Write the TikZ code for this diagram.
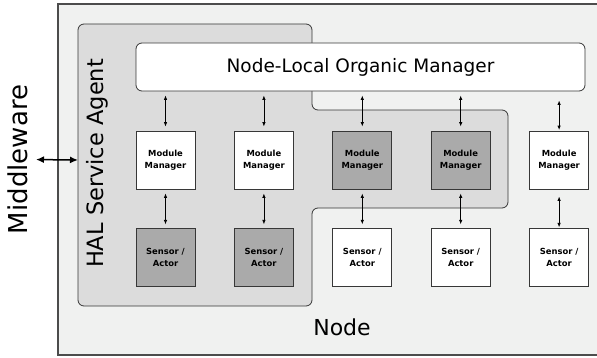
\documentclass[tikz,border=0pt]{standalone}
\usepackage{fontspec}
\setmainfont{DejaVu Sans}
\usetikzlibrary{arrows.meta, positioning}

\definecolor{nodebg}{RGB}{240,241,240}
\definecolor{halbg}{RGB}{220,220,220}
\definecolor{halbox}{RGB}{170,170,170}
\definecolor{edge}{RGB}{55,55,55}

\begin{document}
\begin{tikzpicture}[
    x=1pt, y=1pt,
    module/.style={
        draw=edge,
        fill=white,
        line width=0.8pt,
        minimum width=59pt,
        minimum height=58pt,
        inner sep=0pt,
        align=center,
        font=\bfseries\fontsize{8.4}{12}\selectfont
    },
    halmodule/.style={
        module,
        fill=halbox
    },
    manager/.style={
        draw=edge,
        fill=white,
        line width=0.8pt,
        rounded corners=6pt,
        minimum width=449pt,
        minimum height=48pt,
        font=\fontsize{18.5}{22}\selectfont
    },
    link/.style={
        {Latex[length=4.5pt,width=3.5pt]}-{Latex[length=4.5pt,width=3.5pt]},
        line width=0.8pt,
        shorten <=4pt,
        shorten >=4pt
    },
    mwlink/.style={
        {Latex[length=8pt,width=7pt]}-{Latex[length=8pt,width=7pt]},
        line width=1.5pt
    }
]

\useasboundingbox (0,0) rectangle (597,357);

% --- NODE AND HAL SERVICE AGENT AREAS ---------------------------

\draw[fill=nodebg, draw=gray!60!black, line width=1.3pt]
    (58,2) rectangle (610,353);

\draw[fill=halbg, draw=edge, line width=0.8pt, rounded corners=6pt]
    (78,333) -- (312,333) -- (312,247) -- (508,247) -- (508,149)
    -- (312,149) -- (312,51) -- (78,51) -- cycle;

\coordinate (halW) at (78,197);

% --- LABELS -----------------------------------------------------

\node[rotate=90, anchor=base, inner sep=0pt, font=\fontsize{26}{30}\selectfont]
    (mw) at (28,197.5) {Middleware};
\node[rotate=90, anchor=base, inner sep=0pt, font=\fontsize{22.5}{26}\selectfont]
    (hal) at (103,193.5) {HAL Service Agent};
\node[anchor=base, inner sep=0pt, font=\fontsize{22}{26}\selectfont]
    (nodelabel) at (342,22) {Node};

% --- ORGANIC MANAGER --------------------------------------------

\node[manager] (nlom) at (360.5,290) {Node-Local Organic Manager};

% --- MODULE MANAGERS --------------------------------------------

\node[module] (mm1) at (165.5,197) {Module\\Manager};
\node[module, right=38.6pt of mm1] (mm2) {Module\\Manager};
\node[halmodule, right=38.6pt of mm2] (mm3) {Module\\Manager};
\node[halmodule, right=38.6pt of mm3] (mm4) {Module\\Manager};
\node[module, right=38.6pt of mm4] (mm5) {Module\\Manager};

% --- SENSORS / ACTORS -------------------------------------------

\node[halmodule, below=39pt of mm1] (sa1) {Sensor /\\Actor};
\node[halmodule, below=39pt of mm2] (sa2) {Sensor /\\Actor};
\node[module, below=39pt of mm3] (sa3) {Sensor /\\Actor};
\node[module, below=39pt of mm4] (sa4) {Sensor /\\Actor};
\node[module, below=39pt of mm5] (sa5) {Sensor /\\Actor};

% --- CONNECTIONS ------------------------------------------------

\draw[link] (nlom.south -| mm1.north) -- (mm1.north);
\draw[link] (nlom.south -| mm2.north) -- (mm2.north);
\draw[link] (nlom.south -| mm3.north) -- (mm3.north);
\draw[link] (nlom.south -| mm4.north) -- (mm4.north);
\draw[link, shorten <=9pt, shorten >=0.5pt] (nlom.south -| mm5.north) -- (mm5.north);

\draw[link] (mm1) -- (sa1);
\draw[link] (mm2) -- (sa2);
\draw[link] (mm3) -- (sa3);
\draw[link] (mm4) -- (sa4);
\draw[link, shorten <=7pt, shorten >=1pt] (mm5) -- (sa5);

\draw[mwlink, shorten <=8pt] (mw.base) -- (halW);

\end{tikzpicture}
\end{document}
